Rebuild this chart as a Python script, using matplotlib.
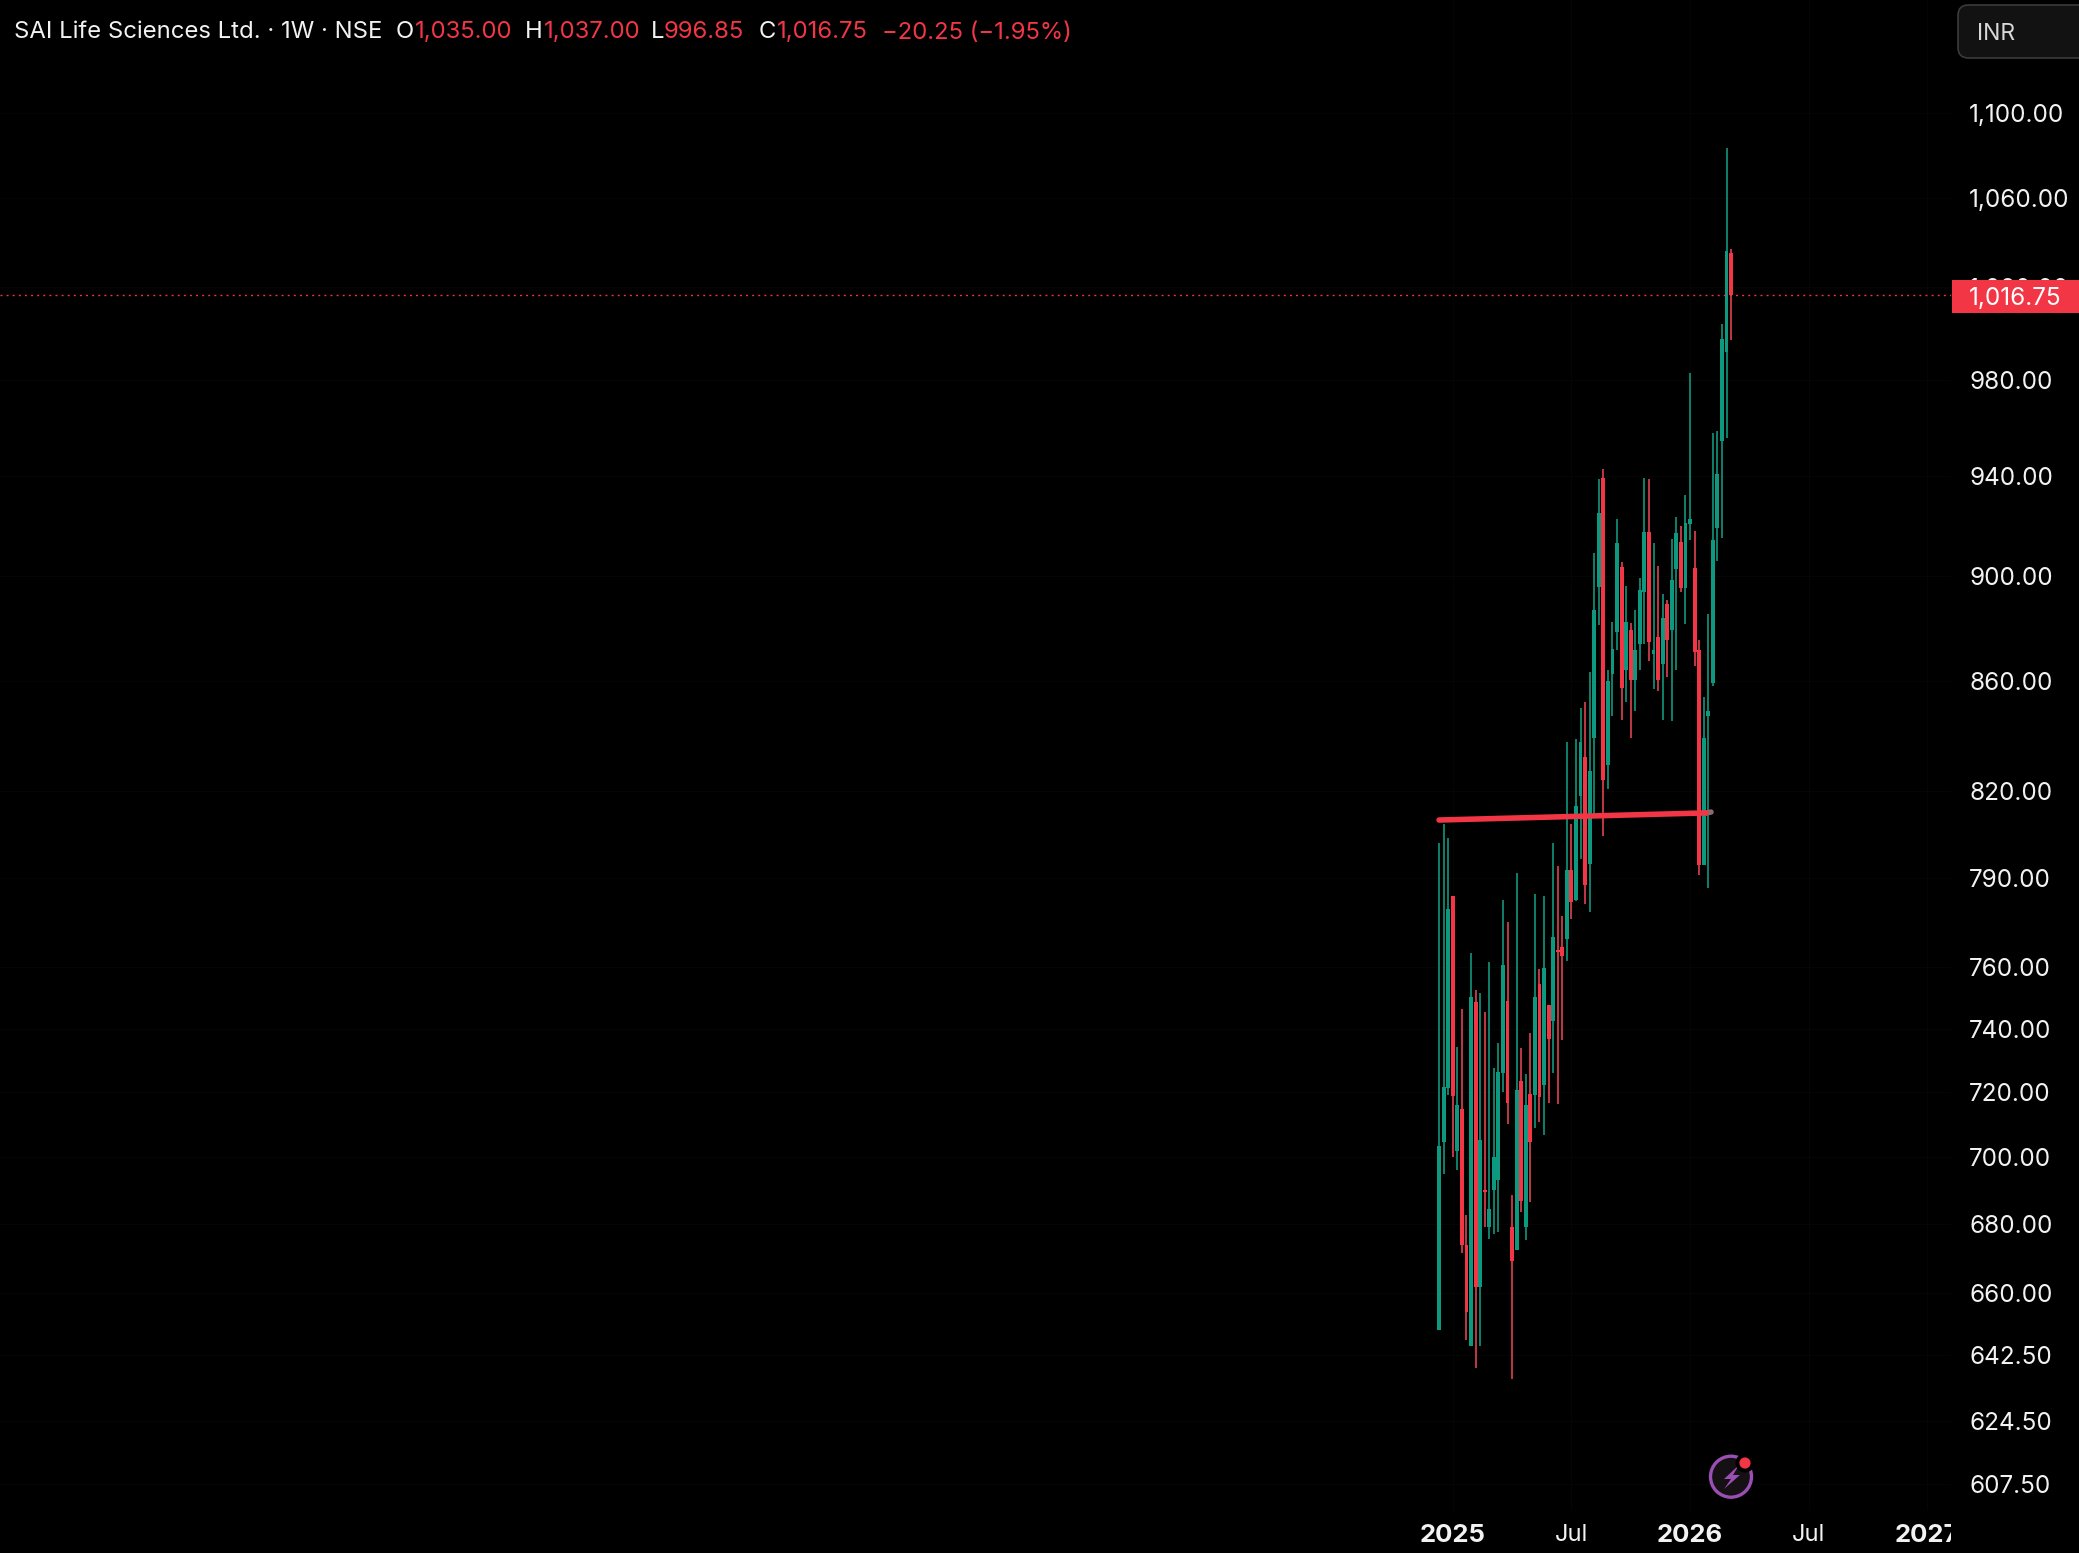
import numpy as np
import matplotlib
matplotlib.use('Agg')
import matplotlib.pyplot as plt
from matplotlib.patches import Rectangle, FancyBboxPatch, Circle, Polygon
from matplotlib.ticker import FixedLocator, FixedFormatter, NullLocator
from matplotlib.transforms import Bbox, IdentityTransform, TransformedBbox

plt.rcParams['font.family'] = ['Inter', 'DejaVu Sans']

# weekly candles, first week mid Dec 2024
opens = [649.5, 704.6, 721.1, 783.8, 701.7, 714.8, 673.7, 644.9, 748.7, 661.6,
         690.2, 679.2, 690.0, 692.9, 725.9, 748.9, 679.2, 672.3, 723.5, 679.2,
         719.2, 719.0, 754.5, 722.1, 747.7, 742.4, 765.6, 766.5, 769.4, 792.5,
         782.2, 818.4, 832.4, 794.5, 839.3, 896.0, 939.2, 829.3, 862.9, 878.5,
         903.6, 864.2, 879.5, 860.4, 874.2, 894.0, 917.4, 870.2, 876.6, 866.3,
         889.3, 879.2, 903.0, 913.6, 895.6, 920.8, 903.3, 871.6, 794.3, 847.1,
         859.4, 919.0, 954.3, 991.7, 1035.0]
highs = [802.0, 808.4, 803.6, 783.8, 734.0, 746.2, 682.7, 764.7, 752.3, 751.5,
         745.4, 761.5, 727.4, 735.4, 782.4, 774.8, 688.5, 791.7, 733.7, 725.7,
         738.6, 784.4, 759.4, 783.8, 747.7, 802.0, 794.0, 776.8, 837.8, 808.4,
         838.7, 850.1, 852.5, 863.5, 909.2, 938.6, 942.6, 864.4, 882.4, 922.8,
         905.7, 896.3, 882.0, 887.0, 899.4, 939.2, 938.6, 913.2, 904.2, 893.3,
         891.0, 914.8, 923.5, 920.0, 932.3, 982.9, 917.8, 875.4, 854.1, 885.5,
         957.7, 958.5, 1004.0, 1083.4, 1037.0]
lows = [649.5, 694.8, 719.0, 699.9, 696.0, 671.5, 646.7, 644.9, 639.0, 645.1,
        679.2, 675.5, 676.9, 677.6, 720.0, 709.9, 635.8, 672.3, 683.6, 675.2,
        686.5, 708.7, 710.8, 706.6, 716.6, 725.8, 716.3, 736.4, 761.9, 776.0,
        782.0, 796.2, 781.0, 778.2, 811.8, 881.4, 804.3, 821.0, 847.1, 871.7,
        845.6, 852.5, 839.3, 849.2, 864.2, 874.2, 867.5, 857.2, 856.5, 845.6,
        861.5, 845.3, 864.4, 894.0, 881.8, 914.4, 865.9, 790.8, 794.3, 786.3,
        858.2, 906.0, 915.2, 955.5, 996.85]
closes = [703.2, 721.6, 779.4, 718.8, 716.0, 673.7, 654.7, 750.2, 661.6, 705.3,
          689.6, 684.5, 699.9, 726.1, 760.5, 716.4, 669.2, 720.7, 686.8, 716.0,
          704.6, 750.2, 718.3, 759.7, 736.6, 769.8, 764.8, 763.7, 792.5, 781.5,
          814.7, 837.8, 787.5, 827.2, 887.0, 925.0, 824.2, 860.0, 872.3, 913.2,
          857.7, 882.2, 860.6, 871.6, 894.5, 917.5, 874.7, 871.6, 860.6, 883.9,
          875.4, 898.7, 917.1, 895.4, 921.1, 922.8, 870.9, 794.3, 839.0, 849.1,
          914.4, 940.6, 997.5, 1036.3, 1016.75]

price_ticks = [1100, 1060, 1020, 980, 940, 900, 860, 820, 790, 760, 740, 720,
               700, 680, 660, 642.5, 624.5, 607.5]
price_labels = ['1,100.00', '1,060.00', '1,020.00', '980.00', '940.00', '900.00',
                '860.00', '820.00', '790.00', '760.00', '740.00', '720.00',
                '700.00', '680.00', '660.00', '642.50', '624.50', '607.50']
week_ticks = [3, 29, 55, 81, 107]
week_labels = ['2025', 'Jul', '2026', 'Jul', '2027']
last_price = 1016.75
trend_x = [0, 58.5]
trend_y = [809.9, 812.4]
trend_end_x = [58.5, 59.6]
trend_end_y = [812.4, 812.7]

GREEN = '#0c9980'
RED = '#f23645'
W, H = 2079, 1553
AX_R, AX_B = 1951, 1510


def fx(x):
    return x / W


def fy(y):
    return 1 - y / H


fig = plt.figure(figsize=(W / 100, H / 100), dpi=100, facecolor='black')
ax = fig.add_axes([0, 1 - AX_B / H, AX_R / W, AX_B / H], facecolor='black')

x = np.arange(len(opens))
o = np.array(opens)
c = np.array(closes)
colors = [GREEN if b >= a else RED for a, b in zip(opens, closes)]
wick_colors = ['#128f78' if b >= a else '#d63f4e' for a, b in zip(opens, closes)]

ax.set_yscale('log')
ax.set_xlim(-315.4, 112.2)
ax.set_ylim(600.8, 1155)

ax.grid(True, color='#050505', lw=1)
ax.set_axisbelow(True)

ax.vlines(x, lows, highs, colors=wick_colors, lw=1.25, zorder=3)
ax.bar(x, np.abs(c - o), bottom=np.minimum(o, c), width=0.85, color=colors, lw=0, zorder=3)

ax.plot(trend_end_x, trend_end_y, color='#8a6a6c', lw=4, solid_capstyle='round', zorder=3.5)
ax.plot(trend_x, trend_y, color=RED, lw=4, solid_capstyle='round', zorder=4)
ax.axhline(last_price, color=RED, lw=1.0, ls=(0, (1.4, 3.0)), zorder=5)

for s in ax.spines.values():
    s.set_visible(False)

ax.yaxis.tick_right()
ax.yaxis.set_major_locator(FixedLocator(price_ticks))
ax.yaxis.set_major_formatter(FixedFormatter(price_labels))
ax.yaxis.set_minor_locator(NullLocator())
ax.xaxis.set_major_locator(FixedLocator(week_ticks))
ax.xaxis.set_major_formatter(FixedFormatter(week_labels))
ax.tick_params(axis='y', length=0, pad=13, labelsize=17.5, labelcolor='#f2f2f2')
ax.tick_params(axis='x', length=0, pad=10, labelsize=17, labelcolor='#f2f2f2')
for lab in ax.get_yticklabels():
    lab.set_ha('left')
    lab.set_va('center_baseline')
clip = TransformedBbox(Bbox([[0, 0], [AX_R, H]]), IdentityTransform())
for lab in ax.get_xticklabels():
    if lab.get_text() != 'Jul':
        lab.set_fontweight('bold')
        lab.set_fontsize(18.5)
    lab.set_clip_on(True)
    lab.set_clip_box(clip)

# price tag
fig.add_artist(Rectangle((fx(1952), fy(313)), (W - 1952) / W, 33 / H, color=RED, lw=0, zorder=6))
fig.text(fx(1969), fy(296), '1,016.75', color='#ffffff', fontsize=17.5, va='center_baseline', ha='left', zorder=7)

# currency button
fig.add_artist(FancyBboxPatch((fx(1958), fy(58)), 160 / W, 53 / H,
                              boxstyle='round,pad=0,rounding_size=0.005',
                              mutation_aspect=W / H, fc='#121212', ec='#3a3a3a', lw=1.2, zorder=6))
fig.text(fx(1977), fy(32), 'INR', color='#d8d8d8', fontsize=16.5, va='center_baseline', ha='left', zorder=7)

# header
fig.text(fx(14), fy(30), 'SAI Life Sciences Ltd. · 1W · NSE', color='#f2f2f2', fontsize=17.2, va='center_baseline')
for px, txt, col in [(396, 'O', '#f2f2f2'), (415, '1,035.00', RED),
                     (525, 'H', '#f2f2f2'), (544, '1,037.00', RED),
                     (651, 'L', '#f2f2f2'), (664, '996.85', RED),
                     (759, 'C', '#f2f2f2'), (777, '1,016.75', RED),
                     (882, '−20.25 (−1.95%)', RED)]:
    fig.text(fx(px), fy(30), txt, color=col, fontsize=17.2, va='center_baseline')

# lightning badge, drawn in pixels
fig.add_artist(Circle((1731, H - 1476.7), 20.5, transform=IdentityTransform(), fc='#141014', ec='#9a4fb4', lw=2.4, zorder=6))
bolt = [(1739, 1465), (1724, 1479), (1731, 1479), (1724, 1489), (1740, 1475), (1733, 1475)]
fig.add_artist(Polygon([(a, H - b) for a, b in bolt], transform=IdentityTransform(), fc='#9a4fb4', lw=0, zorder=7))
fig.add_artist(Circle((1745, H - 1463), 9.5, transform=IdentityTransform(), fc='black', lw=0, zorder=7))
fig.add_artist(Circle((1745, H - 1463), 5.6, transform=IdentityTransform(), fc='#f23645', lw=0, zorder=8))

fig.savefig('out.png', dpi=100, facecolor='black')
